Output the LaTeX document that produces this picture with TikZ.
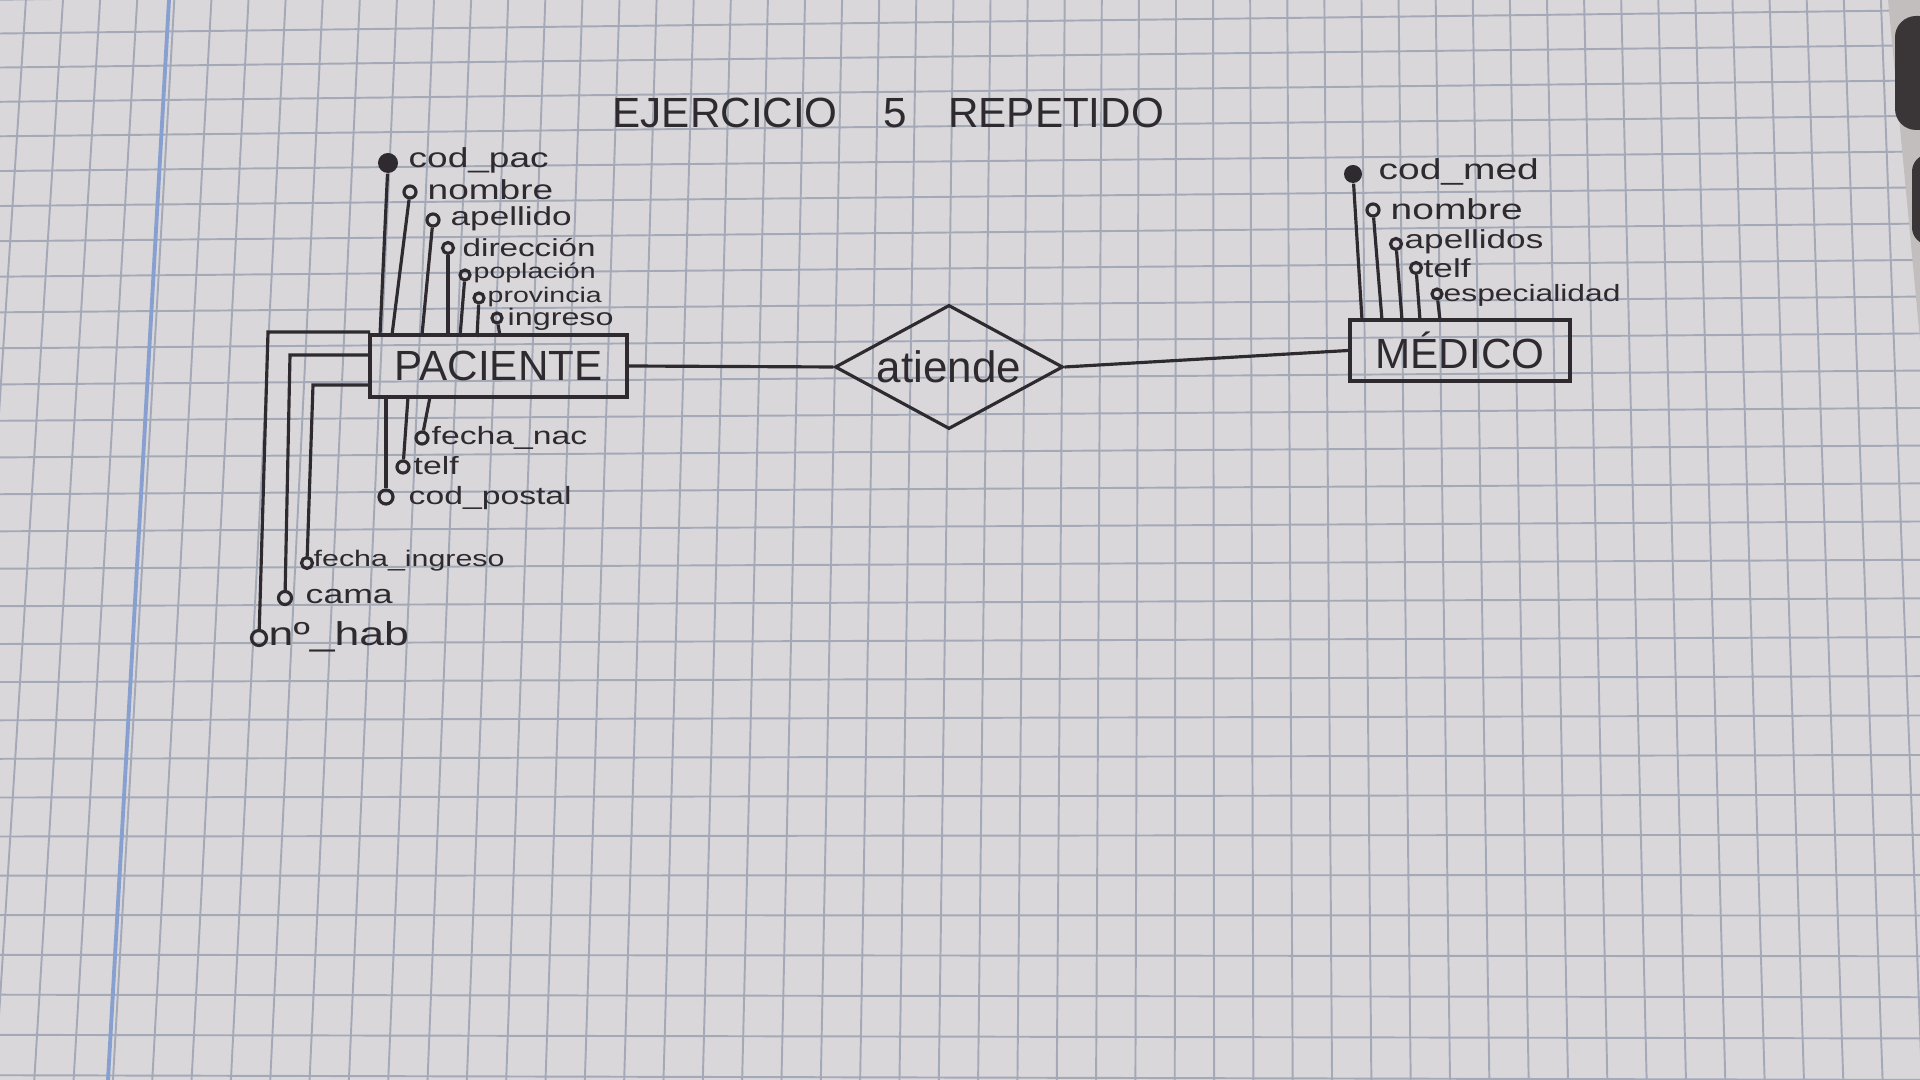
\documentclass[tikz,border=0pt]{standalone}
\usepackage{fontspec}
\setmainfont{Liberation Sans}
\newfontfamily\hand{Liberation Sans}
\newfontfamily\handw[FakeStretch=1.35]{Liberation Sans}
\usetikzlibrary{shapes.geometric}
\definecolor{ink}{HTML}{2E2A2F}
\definecolor{paper}{HTML}{D9D7DA}
\definecolor{gridc}{HTML}{A4A9B8}
\definecolor{marginc}{HTML}{87A0CF}
\definecolor{binder}{HTML}{3A3537}
\definecolor{edgec}{HTML}{C2BEBE}
\tikzset{
  pen/.style={draw=ink, line width=0.9pt},
  gridline/.style={draw=gridc, line width=0.55pt},
  marginline/.style={draw=marginc, line width=1.1pt},
  entbox/.style={pen, rectangle, inner sep=0pt, text=ink, font=\hand\fontsize{12}{14}\selectfont},
  relbox/.style={pen, diamond, inner sep=0pt, aspect=1.84, minimum width=2.28cm, minimum height=1.24cm, text=ink, font=\hand\fontsize{12.5}{14}\selectfont},
  keyattr/.style={circle, fill=ink, inner sep=0pt, minimum size=#1},
  attr/.style={circle, pen, inner sep=0pt, minimum size=#1},
  lbl/.style={anchor=west, inner sep=0pt, text=ink, font=\handw\fontsize{#1}{#1}\selectfont},
  ttl/.style={anchor=west, inner sep=0pt, text=ink, font=\hand\fontsize{#1}{#1}\selectfont},
}
\begin{document}
\begin{tikzpicture}[x=0.01cm, y=-0.01cm]
\useasboundingbox (0,0) rectangle (1920,1080);
\clip (0,0) rectangle (1920,1080);
% paper
\fill[paper] (0,0) rectangle (1920,1080);
% grid
\foreach \n in {-5,...,25}{
  \pgfmathsetmacro\gyl{168+35*\n+0.118*\n*\n}
  \pgfmathsetmacro\gtilt{0.0125*(1-\gyl/900)}
  \pgfmathsetmacro\gya{\gyl+\gtilt*300}
  \pgfmathsetmacro\gyb{\gyl-\gtilt*1620}
  \draw[gridline] (0,\gya) -- (1920,\gyb);
}
\foreach \m in {-8,...,45}{
  \pgfmathsetmacro\gxa{285.6+37.1*\m}
  \pgfmathsetmacro\gxb{\gxa+(\gxa-1197)*0.06}
  \draw[gridline] (\gxa,0) -- (\gxb,1080);
}
% margin line
\draw[marginline] (169,0) -- (108,1080);
% binder at top right
\fill[edgec] (1888,0) -- (1920,0) -- (1920,340) -- cycle;
\fill[binder, rounded corners=6pt] (1895,16) rectangle (1940,130);
\fill[binder, rounded corners=5pt] (1912,154) rectangle (1940,245);

% title
\node[ttl=12] (title) at (612,113) {EJERCICIO\hspace{0.46cm}5\hspace{0.41cm}REPETIDO};

% entities and relationship
\node[entbox, minimum width=2.57cm, minimum height=0.62cm] (pac) at (498.5,366) {PACIENTE};
\node[entbox, minimum width=2.2cm, minimum height=0.61cm] (med) at (1460,350.5) {MÉDICO};
\node[relbox] (rel) at (949,367) {atiende};
\draw[pen] (pac.east) -- (rel.west);
\draw[pen] (rel.east) -- (med.west);

% PACIENTE attributes (top)
\node[keyattr=0.2cm] (pa1) at (388,163) {};
\node[lbl=7.8] (pt1) at (408,160) {cod\_pac};
\node[attr=0.12cm] (pa2) at (410,192) {};
\node[lbl=7.8] (pt2) at (427,190) {nombre};
\node[attr=0.12cm] (pa3) at (433,220) {};
\node[lbl=7.4] (pt3) at (450,219) {apellido};
\node[attr=0.11cm] (pa4) at (448,248) {};
\node[lbl=7] (pt4) at (462,248) {dirección};
\node[attr=0.1cm] (pa5) at (465,275) {};
\node[lbl=6] (pt5) at (473,273) {poplación};
\node[attr=0.1cm] (pa6) at (479,298) {};
\node[lbl=6] (pt6) at (487,297) {provincia};
\node[attr=0.1cm] (pa7) at (497,318) {};
\node[lbl=6.8] (pt7) at (507,319) {ingreso};
\coordinate (pc1) at (380,335);
\coordinate (pc2) at (392,335);
\coordinate (pc3) at (422,335);
\coordinate (pc4) at (448,336);
\coordinate (pc5) at (460,337);
\coordinate (pc6) at (477,337);
\coordinate (pc7) at (500,336);
\foreach \i in {1,...,7}{\draw[pen] (pa\i) -- (pc\i);}

% PACIENTE attributes (bottom)
\node[attr=0.12cm] (pb1) at (422,438) {};
\node[lbl=7.1] (pbt1) at (431,438) {fecha\_nac};
\node[attr=0.12cm] (pb2) at (403,467) {};
\node[lbl=7.1] (pbt2) at (413,466) {telf};
\node[attr=0.14cm] (pb3) at (386,497) {};
\node[lbl=7.1] (pbt3) at (408,498) {cod\_postal};
\coordinate (pd1) at (430,397);
\coordinate (pd2) at (408,397);
\coordinate (pd3) at (386,397);
\foreach \i in {1,2,3}{\draw[pen] (pd\i) -- (pb\i);}

% PACIENTE attributes (left)
\node[attr=0.11cm] (pl1) at (307,563) {};
\node[lbl=6.4] (plt1) at (313,561) {fecha\_ingreso};
\node[attr=0.13cm] (pl2) at (285,598) {};
\node[lbl=7.5] (plt2) at (305,597) {cama};
\node[attr=0.15cm] (pl3) at (259,638) {};
\node[lbl=9.4] (plt3) at (268,637) {nº\_hab};
\coordinate (pe1) at (370,385);
\coordinate (pe2) at (370,355);
\coordinate (pe3) at (370,332);
\draw[pen] (pe1) -- (313,385) -- (pl1);
\draw[pen] (pe2) -- (290,355) -- (pl2);
\draw[pen] (pe3) -- (268,332) -- (pl3);

% MEDICO attributes
\node[keyattr=0.18cm] (ma1) at (1353,174) {};
\node[lbl=8.2] (mt1) at (1378,172) {cod\_med};
\node[attr=0.12cm] (ma2) at (1373,210) {};
\node[lbl=8.2] (mt2) at (1390,209) {nombre};
\node[attr=0.11cm] (ma3) at (1396,244) {};
\node[lbl=7.4] (mt3) at (1404,242) {apellidos};
\node[attr=0.11cm] (ma4) at (1416,268) {};
\node[lbl=7.4] (mt4) at (1423,268) {telf};
\node[attr=0.1cm] (ma5) at (1437,294) {};
\node[lbl=6.7] (mt5) at (1443,295) {especialidad};
\coordinate (mc1) at (1362,320);
\coordinate (mc2) at (1382,320);
\coordinate (mc3) at (1402,320);
\coordinate (mc4) at (1420,320);
\coordinate (mc5) at (1440,320);
\foreach \i in {1,...,5}{\draw[pen] (ma\i) -- (mc\i);}
\end{tikzpicture}
\end{document}
